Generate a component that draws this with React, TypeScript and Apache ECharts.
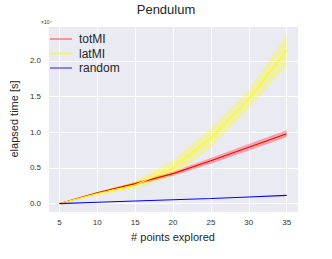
import React, { useEffect, useRef } from "react";
import * as echarts from "echarts";

// Data in units of 10^4 seconds
const pointsExplored = [5, 10, 15, 20, 25, 30, 35];
const totMIMean = [0, 0.15, 0.28, 0.42, 0.6, 0.79, 0.98];
const totMIStd = [0, 0.012, 0.022, 0.03, 0.04, 0.045, 0.05];
const latMIMean = [0, 0.14, 0.26, 0.5, 0.92, 1.46, 2.15];
const latMIStd = [0, 0.02, 0.06, 0.11, 0.14, 0.13, 0.22];
const randomMean = [0, 0.018, 0.036, 0.054, 0.072, 0.093, 0.115];
const seriesNames = ["totMI", "latMI", "random"];

const FONT = "'Liberation Sans', Arial, 'DejaVu Sans', sans-serif";

function bandSeries(key: string, mean: number[], std: number[], color: string) {
  const data = pointsExplored.map((x, i) => [x, mean[i] - std[i], mean[i] + std[i]]);
  return {
    name: key + "_band",
    type: "custom",
    silent: true,
    z: 1,
    encode: { x: 0, y: [1, 2] },
    data,
    renderItem: (params: any, api: any) => {
      if (params.dataIndex !== 0) return null;
      const upper = data.map((d) => api.coord([d[0], d[2]]));
      const lower = data.map((d) => api.coord([d[0], d[1]])).reverse();
      return {
        type: "polygon",
        shape: { points: upper.concat(lower) },
        style: { fill: color, stroke: "none", lineWidth: 0 },
      };
    },
  };
}

export default function App() {
  const ref = useRef<HTMLDivElement>(null);
  useEffect(() => {
    const chart = echarts.init(ref.current!, undefined, { renderer: "svg" });
    const option: any = {
      animation: false,
      backgroundColor: "#ffffff",
      title: {
        text: "Pendulum",
        left: "center",
        top: 3,
        padding: 0,
        textStyle: { fontSize: 13, fontWeight: "normal", color: "#262626", fontFamily: FONT },
      },
      legend: {
        orient: "vertical",
        left: 50,
        top: 32,
        padding: 0,
        icon: "rect",
        itemWidth: 22,
        itemHeight: 1.6,
        itemGap: 0.5,
        itemStyle: { borderWidth: 0 },
        textStyle: { fontSize: 12, lineHeight: 14, color: "#262626", fontFamily: FONT, padding: [0, 0, 0, 2] },
        data: [
          { name: seriesNames[0], itemStyle: { color: "rgba(255,0,0,0.45)", borderWidth: 0 } },
          { name: seriesNames[1], itemStyle: { color: "rgba(255,255,0,0.9)", borderWidth: 0 } },
          { name: seriesNames[2], itemStyle: { color: "rgba(0,0,255,0.55)", borderWidth: 0 } },
        ],
      },
      grid: {
        left: 42,
        right: 34,
        top: 26,
        bottom: 47,
        show: true,
        backgroundColor: "#EAEAF2",
        borderWidth: 0,
      },
      xAxis: {
        type: "value",
        min: 3.5,
        max: 36.5,
        name: "# points explored",
        nameLocation: "middle",
        nameGap: 19,
        nameTextStyle: { fontSize: 11, color: "#262626", fontFamily: FONT },
        axisLine: { show: false },
        axisTick: { show: false },
        splitLine: { show: true, lineStyle: { color: "#ffffff", width: 1 } },
        axisLabel: {
          fontSize: 8,
          color: "#333333",
          fontFamily: FONT,
          margin: 6,
          formatter: (v: number) => (Math.abs(v % 5) < 1e-9 ? String(v) : ""),
        },
      },
      yAxis: {
        type: "value",
        min: -0.118,
        max: 2.49,
        name: "elapsed time [s]",
        nameLocation: "middle",
        nameGap: 17,
        nameTextStyle: { fontSize: 11, color: "#262626", fontFamily: FONT },
        axisLine: { show: false },
        axisTick: { show: false },
        splitLine: { show: true, lineStyle: { color: "#ffffff", width: 1 } },
        axisLabel: {
          fontSize: 8,
          color: "#333333",
          fontFamily: FONT,
          margin: 7,
          formatter: (v: number) =>
            v >= -1e-9 && Math.abs(v * 2 - Math.round(v * 2)) < 1e-9 ? Math.abs(v).toFixed(1) : "",
        },
      },
      graphic: [
        {
          type: "text",
          left: 41,
          top: 19,
          style: { text: "×10⁴", fontSize: 5, fill: "#333333", fontFamily: FONT },
        },
      ],
      series: [
        bandSeries("tot", totMIMean, totMIStd, "rgba(255,0,0,0.3)"),
        bandSeries("lat", latMIMean, latMIStd, "rgba(255,255,0,0.3)"),
        {
          name: seriesNames[0],
          type: "line",
          symbol: "none",
          color: "#ff0000",
          lineStyle: { color: "#ff0000", width: 1.1 },
          data: pointsExplored.map((x, i) => [x, totMIMean[i]]),
          z: 3,
        },
        {
          name: seriesNames[1],
          type: "line",
          symbol: "none",
          color: "#ffff00",
          lineStyle: { color: "#ffff00", width: 1.1 },
          data: pointsExplored.map((x, i) => [x, latMIMean[i]]),
          z: 3,
        },
        {
          name: seriesNames[2],
          type: "line",
          symbol: "none",
          color: "#0000ff",
          lineStyle: { color: "#0000ff", width: 1.1 },
          data: pointsExplored.map((x, i) => [x, randomMean[i]]),
          z: 3,
        },
      ],
    };
    chart.setOption(option);
    return () => chart.dispose();
  }, []);
  return (
    <div
      ref={ref}
      style={{ position: "fixed", left: 0, top: 0, width: 332, height: 259 }}
    />
  );
}
